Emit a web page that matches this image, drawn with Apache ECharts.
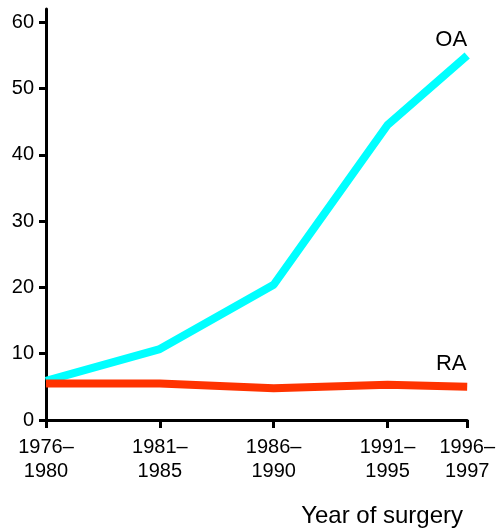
<!DOCTYPE html>
<html>
<head>
<meta charset="utf-8">
<script src="https://cdn.jsdelivr.net/npm/echarts@6/dist/echarts.min.js"></script>
<style>
  html, body { margin: 0; padding: 0; background: #fff; }
  #chart { width: 498px; height: 529px; }
</style>
</head>
<body>
<div id="chart"></div>
<script>
// period midpoints (years) and their tick labels
var periodMid = [1978, 1983, 1988, 1993, 1996.5];
var periodLabels = ['1976–\n1980', '1981–\n1985', '1986–\n1990', '1991–\n1995', '1996–\n1997'];
var oaValues = [5.9, 10.7, 20.4, 44.5, 55];
var raValues = [5.5, 5.5, 4.8, 5.3, 5.0];
var yTicks = [0, 10, 20, 30, 40, 50, 60];

var font = '"Liberation Sans", Arial, Helvetica, sans-serif';

function pairs(vals) {
  return vals.map(function (v, i) { return [periodMid[i], v]; });
}

function endLabel(name, offset) {
  return {
    show: true,
    position: 'top',
    offset: offset,
    color: '#000',
    fontSize: 22,
    fontFamily: font,
    formatter: function (p) {
      return p.dataIndex === periodMid.length - 1 ? name : '';
    }
  };
}

var myChart = echarts.init(document.getElementById('chart'));
var option = {
  animation: false,
  title: {
    text: 'Year of surgery',
    right: 30,
    top: 499,
    textStyle: { fontSize: 24, fontWeight: 'normal', color: '#000', fontFamily: font }
  },
  grid: { left: 46, right: 28, top: 9, bottom: 109 },
  xAxis: {
    type: 'value',
    min: 1978,
    max: 1996.5,
    splitLine: { show: false },
    axisLine: { lineStyle: { color: '#000', width: 3 } },
    axisTick: { customValues: periodMid, length: 8, lineStyle: { color: '#000', width: 3 } },
    axisLabel: {
      customValues: periodMid,
      margin: 15,
      color: '#000',
      fontSize: 20,
      lineHeight: 24,
      fontFamily: font,
      formatter: function (v) {
        var i = periodMid.indexOf(v);
        return i >= 0 ? periodLabels[i] : '';
      }
    }
  },
  yAxis: {
    type: 'value',
    min: 0,
    max: 62,
    splitLine: { show: false },
    axisLine: { lineStyle: { color: '#000', width: 3 } },
    axisTick: { customValues: yTicks, length: 7, lineStyle: { color: '#000', width: 3 } },
    axisLabel: { customValues: yTicks, margin: 12, color: '#000', fontSize: 20, fontFamily: font }
  },
  series: [
    {
      name: 'OA',
      type: 'line',
      data: pairs(oaValues),
      symbol: 'circle',
      symbolSize: 0.1,
      lineStyle: { color: '#00FFFF', width: 8 },
      itemStyle: { color: '#00FFFF' },
      label: endLabel('OA', [-16, 1])
    },
    {
      name: 'RA',
      type: 'line',
      data: pairs(raValues),
      symbol: 'circle',
      symbolSize: 0.1,
      lineStyle: { color: '#FF3300', width: 8 },
      itemStyle: { color: '#FF3300' },
      label: endLabel('RA', [-16, -7])
    }
  ]
};
myChart.setOption(option);
</script>
</body>
</html>
